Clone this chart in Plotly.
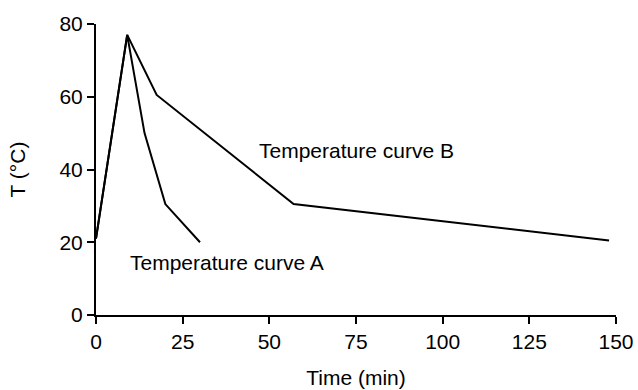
import plotly.graph_objects as go

time_a = [0, 9, 14, 20, 30]
temp_a = [21, 77, 50, 30.5, 20]
time_b = [0, 9, 17.5, 57, 148]
temp_b = [21, 77, 60.5, 30.5, 20.5]

x_ticks = [0, 25, 50, 75, 100, 125, 150]
y_ticks = [0, 20, 40, 60, 80]

font = dict(family="Liberation Sans, Arial, sans-serif", size=21, color="black")

fig = go.Figure()
fig.add_trace(go.Scatter(x=time_a, y=temp_a, mode="lines", line=dict(color="black", width=2), showlegend=False))
fig.add_trace(go.Scatter(x=time_b, y=temp_b, mode="lines", line=dict(color="black", width=2), showlegend=False))

fig.add_annotation(x=73.3, y=80.2, text="pH 7", showarrow=False, font=font)
fig.add_annotation(x=75.2, y=45.3, text="Temperature curve B", showarrow=False, font=font)
fig.add_annotation(x=37.8, y=14.4, text="Temperature curve A", showarrow=False, font=font)

fig.update_layout(
    width=638, height=390,
    margin=dict(l=96, r=22, t=24, b=75),
    plot_bgcolor="white", paper_bgcolor="white",
    font=font,
    xaxis=dict(range=[0, 150], tickvals=x_ticks, showgrid=False, zeroline=False,
               showline=True, linecolor="black", linewidth=2, automargin=False,
               ticks="outside", ticklen=7, tickwidth=2, tickcolor="black",
               title=dict(text="Time (min)", font=font, standoff=18)),
    yaxis=dict(range=[0, 80], tickvals=y_ticks, showgrid=False, zeroline=False,
               showline=True, linecolor="black", linewidth=2, automargin=False,
               ticks="outside", ticklen=7, tickwidth=2, tickcolor="black",
               title=dict(text="T (°C)", font=font, standoff=28)),
)

fig.write_html("out.html")
